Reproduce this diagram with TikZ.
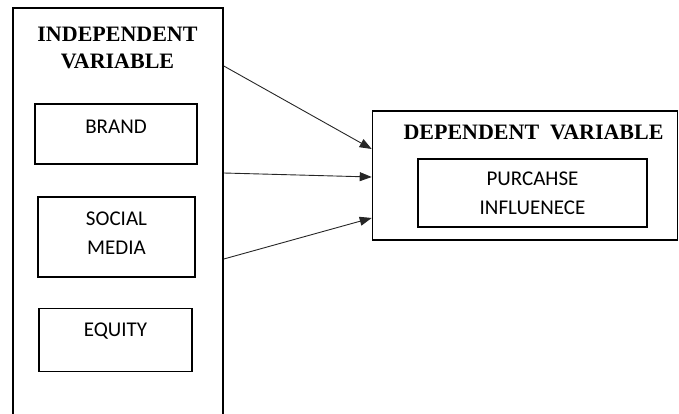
\documentclass[tikz,border=0pt]{standalone}
\usepackage{fontspec}
\newfontfamily\boxfont{Carlito}
\newfontfamily\headfont{Liberation Serif}
\usepackage{tikz}
\usetikzlibrary{arrows.meta}
\usepackage{xcolor}

\tikzset{
  outerbox/.style={draw, line width=1.6pt, inner sep=0pt},
  varbox/.style={draw, line width=1.4pt, inner sep=0pt, align=center,
    font=\boxfont\fontsize{21}{29}\selectfont},
  headtext/.style={align=center, inner sep=0pt,
    font=\headfont\bfseries\fontsize{22}{26.8}\selectfont},
  link/.style={-{Triangle[length=12pt, width=9pt]}, line width=0.9pt, black!85}
}

\begin{document}
\begin{tikzpicture}[x=1pt, y=-1pt]
\useasboundingbox (0,0) rectangle (679,414);
% left side, open towards the bottom edge
\node[outerbox, minimum width=210, minimum height=420] (indep) at (118,218) {};
\node[headtext] (indeptitle) at (117.5,47.9) {INDEPENDENT\\VARIABLE};
\node[varbox, minimum width=162, minimum height=60, text depth=14pt] (brand) at (116,134) {BRAND};
\node[varbox, minimum width=157, minimum height=80, text depth=8pt] (social) at (116.5,237) {SOCIAL\\MEDIA};
\node[varbox, minimum width=153, minimum height=63, text depth=20pt] (equity) at (115.5,340) {EQUITY};
% right side
\node[outerbox, minimum width=305, minimum height=129] (dep) at (525,175.5) {};
\node[headtext] (deptitle) at (533.5,132) {DEPENDENT\hspace{11pt}VARIABLE};
\node[varbox, minimum width=229, minimum height=68] (purchase) at (532.5,193) {PURCAHSE\\INFLUENECE};
% arrows
\draw[link] (indep.east |- 0,66) -- (dep.west |- 0,149);
\draw[link] (indep.east |- 0,173) -- (dep.west |- 0,177);
\draw[link] (indep.east |- 0,259) -- (dep.west |- 0,218);
\end{tikzpicture}
\end{document}
